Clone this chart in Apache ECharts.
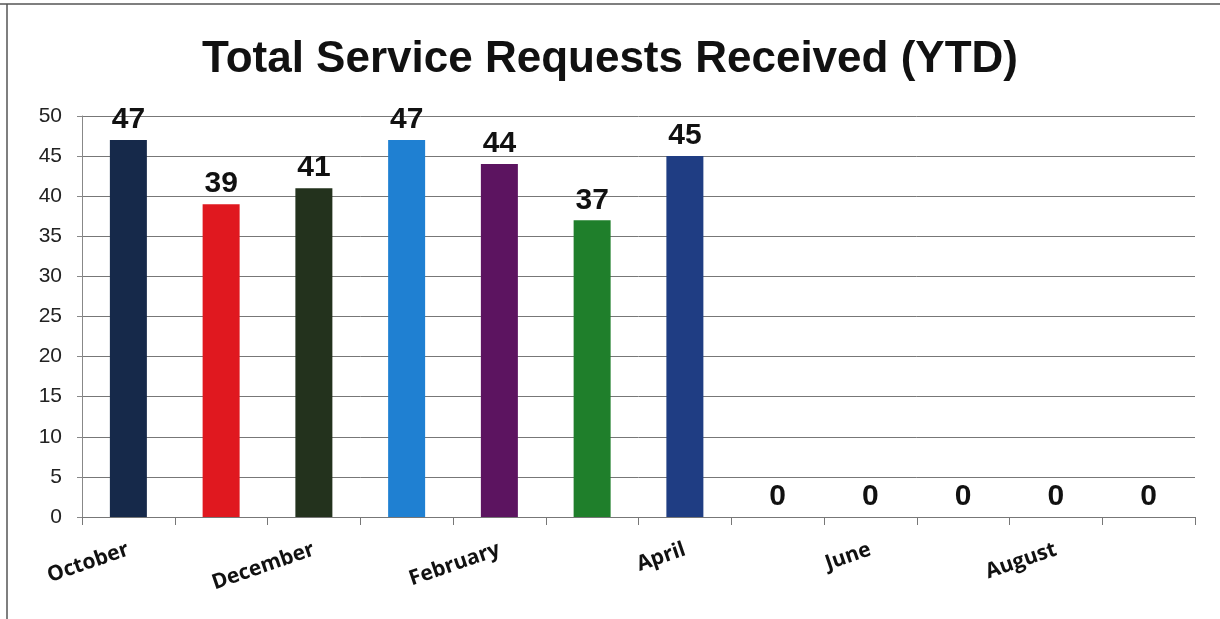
<!DOCTYPE html>
<html>
<head>
<meta charset="utf-8">
<script src="https://cdn.jsdelivr.net/npm/echarts@6/dist/echarts.min.js"></script>
<style>
html,body{margin:0;padding:0;background:#fff;}
#c{width:1220px;height:619px;}
</style>
</head>
<body>
<div id="c"></div>
<script>
const titleText = 'Total Service Requests Received (YTD)';
const months = ['October','November','December','January','February','March','April','May','June','July','August','September'];
const requests = [47, 39, 41, 47, 44, 37, 45, 0, 0, 0, 0, 0];
const barColors = ['#16294a','#e0181f','#23321d','#1f80d2','#5c1460','#1f7f2b','#1f3d83','#1f3d83','#1f3d83','#1f3d83','#1f3d83','#1f3d83'];
const yTicks = [0, 5, 10, 15, 20, 25, 30, 35, 40, 45, 50];

const chart = echarts.init(document.getElementById('c'));
chart.setOption({
  backgroundColor: '#fff',
  animation: false,
  graphic: [
    {type:'line', shape:{x1:0,y1:4,x2:1220,y2:4}, style:{stroke:'#555',lineWidth:1.5}},
    {type:'line', shape:{x1:7,y1:4,x2:7,y2:619}, style:{stroke:'#555',lineWidth:1.5}}
  ],
  title: {
    text: titleText,
    left: 'center',
    top: 33,
    textStyle: {fontFamily:'Liberation Sans, Arial', fontWeight:'bold', fontSize:44, color:'#111'}
  },
  grid: {left: 82, right: 25, top: 116, bottom: 102, containLabel: false},
  xAxis: {
    type: 'category',
    data: months,
    axisLine: {show: true, lineStyle: {color: '#777', width: 1}},
    axisTick: {show: true, interval: 0, length: 8, lineStyle: {color: '#777'}},
    axisLabel: {
      interval: 1,
      rotate: 19,
      margin: 32,
      fontFamily: 'Open Sans',
      fontWeight: 'bold',
      fontSize: 21,
      color: '#111'
    }
  },
  yAxis: {
    type: 'value',
    min: 0,
    max: 50,
    interval: 5,
    axisLine: {show: true, lineStyle: {color: '#888', width: 1}},
    axisTick: {show: true, length: 5, lineStyle: {color: '#888'}},
    axisLabel: {
      fontFamily: 'Liberation Sans, Arial',
      fontSize: 21,
      color: '#222',
      margin: 20,
      formatter: function(v){ return yTicks.indexOf(v) >= 0 ? String(v) : ''; }
    },
    splitLine: {show: true, lineStyle: {color: '#777', width: 1}}
  },
  series: [{
    type: 'bar',
    data: requests.map((v, i) => ({value: v, itemStyle: {color: barColors[i]}})),
    barWidth: 37,
    label: {
      show: true,
      position: 'top',
      distance: 5,
      fontFamily: 'Liberation Sans, Arial',
      fontWeight: 'bold',
      fontSize: 30,
      color: '#111'
    }
  }]
});
</script>
</body>
</html>
